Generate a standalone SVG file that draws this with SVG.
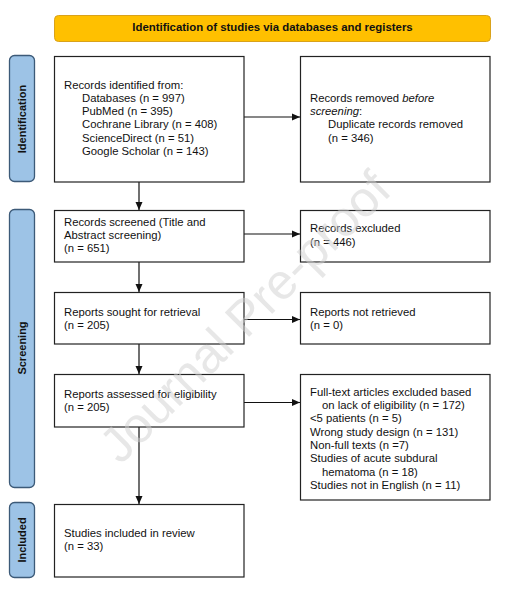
<svg xmlns="http://www.w3.org/2000/svg" width="507" height="591" viewBox="0 0 507 591">
<defs>
<marker id="ah" markerWidth="8" markerHeight="8" refX="8" refY="4" orient="auto" markerUnits="userSpaceOnUse">
<path d="M0,0.5 L8,4 L0,7.5 Z" fill="#111"/>
</marker>
<style>
.box{fill:#fff;stroke:#222;stroke-width:1.2}
.side{fill:#9dc3e6;stroke:#3c5a78;stroke-width:1.3}
.t{font-family:"Liberation Sans",Arial,sans-serif;font-size:11.3px;fill:#111}
.sl{font-family:"Liberation Sans",Arial,sans-serif;font-size:11px;font-weight:bold;fill:#111;text-anchor:middle}
.hd{font-family:"Liberation Sans",Arial,sans-serif;font-size:11.4px;font-weight:bold;fill:#111;text-anchor:middle}
.cn{stroke:#111;stroke-width:1.2;fill:none}
.wm{font-family:"Liberation Sans",Arial,sans-serif;font-size:50px;fill:#d0d0d0;fill-opacity:0.5;text-anchor:middle}
</style>
</defs>
<rect width="507" height="591" fill="#fff"/>

<g id="header">
<rect x="54.5" y="15.5" width="436" height="26" rx="4" fill="#ffc000" stroke="#d9a21b" stroke-width="1"/>
<text class="hd" x="272.5" y="31">Identification of studies via databases and registers</text>
</g>

<g id="side-identification">
<rect class="side" x="9.5" y="55.5" width="25" height="126" rx="5"/>
<text class="sl" transform="translate(26,119) rotate(-90)">Identification</text>
</g>
<g id="side-screening">
<rect class="side" x="9.5" y="209.5" width="25" height="278" rx="5"/>
<text class="sl" transform="translate(26,348) rotate(-90)">Screening</text>
</g>
<g id="side-included">
<rect class="side" x="9.5" y="502.5" width="25" height="75" rx="5"/>
<text class="sl" transform="translate(26,540) rotate(-90)">Included</text>
</g>

<g id="connectors">
<line class="cn" x1="244" y1="117" x2="300" y2="117" marker-end="url(#ah)"/>
<line class="cn" x1="244" y1="234" x2="300" y2="234" marker-end="url(#ah)"/>
<line class="cn" x1="244" y1="319.5" x2="300" y2="319.5" marker-end="url(#ah)"/>
<line class="cn" x1="244" y1="402.5" x2="300" y2="402.5" marker-end="url(#ah)"/>
<line class="cn" x1="139" y1="182" x2="139" y2="210" marker-end="url(#ah)"/>
<line class="cn" x1="139" y1="262" x2="139" y2="292" marker-end="url(#ah)"/>
<line class="cn" x1="139" y1="344" x2="139" y2="374" marker-end="url(#ah)"/>
<line class="cn" x1="139" y1="427" x2="139" y2="504" marker-end="url(#ah)"/>
</g>

<g id="records-identified">
<rect class="box" x="54.5" y="56.5" width="189.5" height="125.5"/>
<text class="t" x="64" y="88.5">Records identified from:</text>
<text class="t" x="82" y="101.8">Databases (n = 997)</text>
<text class="t" x="82" y="115.1">PubMed (n = 395)</text>
<text class="t" x="82" y="128.4">Cochrane Library (n = 408)</text>
<text class="t" x="82" y="141.7">ScienceDirect (n = 51)</text>
<text class="t" x="82" y="155">Google Scholar (n = 143)</text>
</g>

<g id="records-removed">
<rect class="box" x="300.5" y="56.5" width="189.5" height="125.5"/>
<text class="t" x="310" y="101.8">Records removed <tspan font-style="italic">before</tspan></text>
<text class="t" x="310" y="115.1"><tspan font-style="italic">screening</tspan>:</text>
<text class="t" x="328" y="128.4">Duplicate records removed</text>
<text class="t" x="328" y="141.7">(n = 346)</text>
</g>

<g id="records-screened">
<rect class="box" x="54.5" y="210.5" width="189.5" height="51.5"/>
<text class="t" x="64" y="225.7">Records screened (Title and</text>
<text class="t" x="64" y="239">Abstract screening)</text>
<text class="t" x="64" y="252.3">(n = 651)</text>
</g>

<g id="records-excluded">
<rect class="box" x="300.5" y="210.5" width="189.5" height="51.5"/>
<text class="t" x="310" y="232.3">Records excluded</text>
<text class="t" x="310" y="245.6">(n = 446)</text>
</g>

<g id="reports-sought">
<rect class="box" x="54.5" y="292.5" width="189.5" height="51.5"/>
<text class="t" x="64" y="315.7">Reports sought for retrieval</text>
<text class="t" x="64" y="329">(n = 205)</text>
</g>

<g id="reports-not-retrieved">
<rect class="box" x="300.5" y="292.5" width="189.5" height="51.5"/>
<text class="t" x="310" y="315.7">Reports not retrieved</text>
<text class="t" x="310" y="329">(n = 0)</text>
</g>

<g id="reports-assessed">
<rect class="box" x="54.5" y="374.5" width="189.5" height="52.5"/>
<text class="t" x="64" y="397.5">Reports assessed for eligibility</text>
<text class="t" x="64" y="410.8">(n = 205)</text>
</g>

<g id="fulltext-excluded">
<rect class="box" x="300.5" y="374.5" width="189.5" height="125.5"/>
<text class="t" x="310" y="395.7">Full-text articles excluded based</text>
<text class="t" x="322" y="409">on lack of eligibility (n = 172)</text>
<text class="t" x="310" y="422.3">&lt;5 patients (n = 5)</text>
<text class="t" x="310" y="435.6">Wrong study design (n = 131)</text>
<text class="t" x="310" y="448.9">Non-full texts (n =7)</text>
<text class="t" x="310" y="462.2">Studies of acute subdural</text>
<text class="t" x="322" y="475.5">hematoma (n = 18)</text>
<text class="t" x="310" y="488.8">Studies not in English (n = 11)</text>
</g>

<g id="studies-included">
<rect class="box" x="54.5" y="504.5" width="189.5" height="72.5"/>
<text class="t" x="64" y="537">Studies included in review</text>
<text class="t" x="64" y="550.3">(n = 33)</text>
</g>

<text class="wm" transform="translate(257,329) rotate(-45)">Journal Pre-proof</text>
</svg>
